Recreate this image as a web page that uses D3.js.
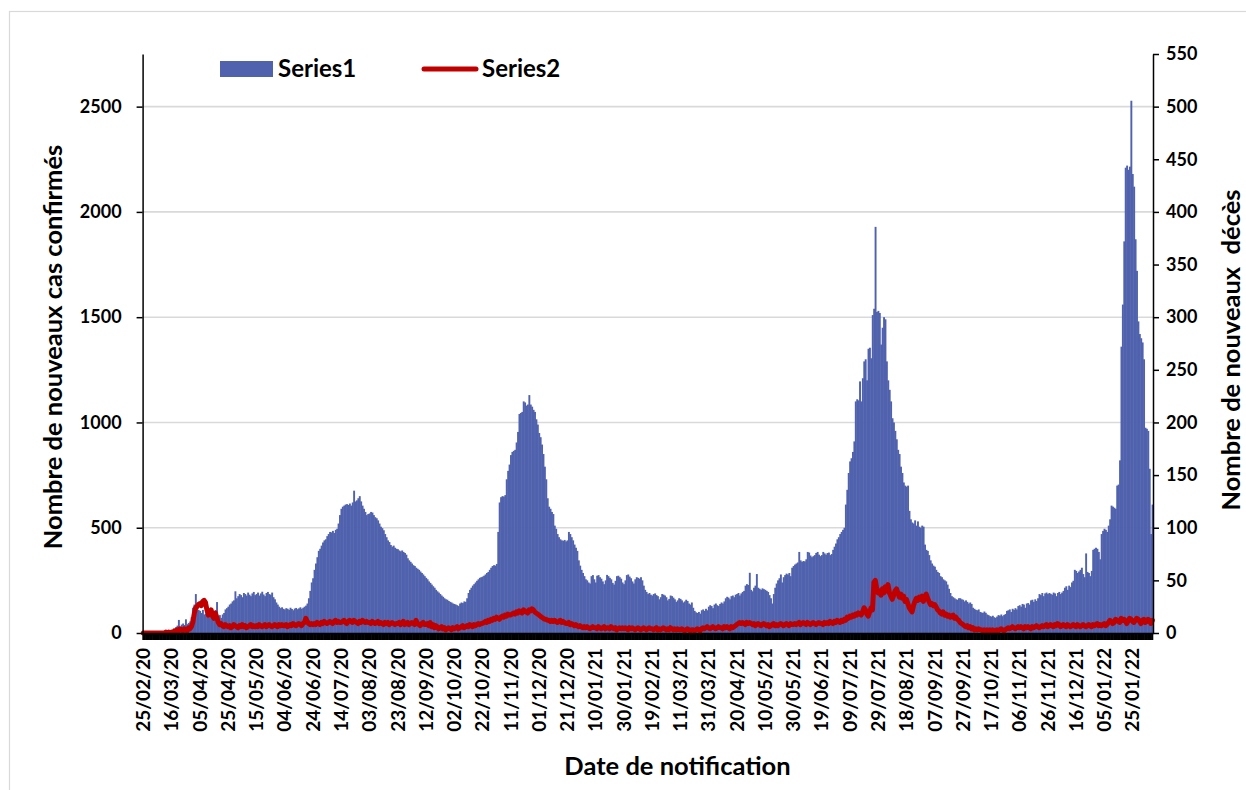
<!DOCTYPE html>
<html>
<head>
<meta charset="utf-8">
<script src="https://cdn.jsdelivr.net/npm/d3@7"></script>
<style>
  body { margin: 0; background: #fff; }
  text { font-family: Lato, "Open Sans", sans-serif; font-weight: 700; fill: #000; }
</style>
</head>
<body>
<svg id="chart" width="1246" height="790"></svg>
<script>
// daily new confirmed cases, from 25/02/2020 (one line = 20 days)
var casesDaily = [
  0,0,0,0,1,0,0,0,0,1,0,2,0,1,3,2,4,6,3,8,
  12,15,20,28,35,62,30,40,45,38,65,42,48,55,75,120,135,185,130,110,
  105,95,110,88,92,115,98,82,100,94,86,108,147,80,85,72,88,95,112,118,
  125,135,140,150,155,198,165,175,185,180,170,190,185,178,192,182,175,188,195,180,
  185,192,178,188,196,183,175,190,195,185,182,192,170,160,145,135,125,118,122,115,
  112,118,115,110,120,114,108,116,119,113,117,122,115,120,125,130,140,165,200,240,
  260,300,330,360,390,400,415,430,440,445,460,470,480,478,485,475,490,495,520,560,
  590,600,605,610,612,608,615,605,620,676,625,630,640,650,625,605,590,575,560,565,
  568,575,572,560,550,545,535,520,505,498,488,470,455,440,432,418,410,415,405,400,
  398,392,388,392,385,380,372,355,345,338,330,322,318,310,305,300,292,285,278,270,
  262,255,245,238,230,222,215,205,198,192,185,178,172,165,160,158,152,148,145,140,
  138,135,132,128,140,145,142,150,148,165,190,205,215,225,232,240,248,255,262,265,
  268,272,278,285,290,300,310,318,322,320,328,480,620,645,650,648,655,730,770,800,
  845,860,865,870,905,955,1040,1045,1050,1100,1095,1080,1085,1130,1085,1075,1060,1050,1015,990,
  950,930,895,850,790,730,640,600,590,575,565,510,495,470,455,445,440,438,442,435,
  440,480,470,455,440,420,405,390,345,320,300,285,270,255,250,240,235,270,275,255,
  240,272,275,265,258,245,232,250,276,270,262,255,238,230,248,270,272,265,258,240,
  232,250,275,278,268,260,245,235,255,265,262,258,265,250,225,205,195,185,190,182,
  178,185,188,180,175,160,170,185,182,178,170,155,162,178,175,168,160,148,155,165,
  162,155,145,150,158,152,140,135,145,120,105,98,95,100,92,108,112,105,115,108,
  125,132,128,118,135,140,132,128,138,145,140,150,165,172,168,160,175,178,170,182,
  185,190,178,188,195,200,225,232,228,286,205,198,215,225,280,215,210,205,212,208,
  205,200,195,180,165,140,185,215,235,250,260,278,240,265,275,282,278,285,270,310,
  318,325,330,335,385,345,338,342,340,350,385,382,368,360,365,370,380,385,372,365,
  370,385,378,372,380,382,370,375,395,410,425,445,455,470,480,490,500,610,680,760,
  815,830,860,910,1100,1110,1105,1195,1100,1210,1290,1300,1200,1350,1355,1305,1510,1540,1929,1525,
  1530,1520,1370,1450,1500,1490,1290,1200,1155,1100,1020,1000,960,920,870,850,790,760,715,700,
  695,700,580,540,525,520,535,510,530,505,500,510,505,420,395,390,370,345,330,320,
  315,300,290,285,270,265,255,250,245,230,210,190,175,170,165,160,158,165,165,160,
  158,150,155,148,140,145,138,120,115,110,108,112,100,98,95,102,96,88,85,80,
  78,82,75,72,78,85,82,88,80,86,90,105,108,112,100,115,110,118,112,128,
  132,125,138,135,120,140,142,135,155,158,148,160,152,165,185,180,190,175,188,192,
  185,190,186,182,192,188,175,190,195,185,192,200,215,222,205,225,218,240,248,300,
  295,285,292,300,310,280,265,378,290,285,270,295,395,400,405,400,385,350,470,485,
  495,490,480,510,540,605,600,595,590,700,705,820,1360,1560,1860,2210,2220,2200,2215,2528,
  2180,2120,1870,1720,1480,1420,1400,1380,1300,975,970,960,780,470,610
];

// daily new deaths, same days
var deathsDaily = [
  0,0,0,0,0,0,0,0,0,0,0,0,0,0,0,0,1,0,1,0,
  1,0,2,1,3,2,4,3,2,4,3,2,5,4,6,10,18,24,25,27,
  28,26,30,31,29,22,17,20,22,16,14,19,15,10,8,9,7,6,8,7,
  6,7,5,6,8,7,6,5,7,6,8,6,7,5,6,7,8,6,7,6,
  7,6,8,7,6,7,8,6,7,8,7,6,7,8,7,6,8,7,8,7,
  7,8,6,7,8,7,9,8,7,8,9,8,7,9,10,14,11,9,8,9,
  8,9,8,10,9,8,10,9,11,10,9,10,11,10,9,11,12,10,11,10,
  10,11,12,10,9,11,12,11,10,12,11,10,9,11,10,12,11,10,11,10,
  10,9,11,10,9,10,11,9,10,9,8,10,9,10,8,9,10,9,8,9,
  9,10,8,9,11,8,9,10,8,9,10,9,8,12,9,8,7,9,10,8,
  8,9,7,10,6,8,5,7,6,4,5,6,4,5,3,4,5,4,3,5,
  4,5,6,4,5,6,7,5,6,7,6,8,7,6,8,7,8,9,8,9,
  9,10,11,10,12,11,13,12,14,13,15,14,13,15,16,15,17,16,18,17,
  17,18,19,18,20,19,21,20,19,22,21,20,19,22,21,23,22,20,19,18,
  17,16,15,14,13,13,12,12,11,12,11,12,11,10,11,12,10,11,10,9,
  9,10,8,9,8,7,8,7,6,7,6,5,6,5,6,5,4,5,6,5,
  5,4,6,5,4,5,6,4,5,5,4,6,5,4,5,3,4,5,4,5,
  4,5,4,3,5,4,5,4,3,4,5,4,3,4,5,4,3,4,5,4,
  4,3,4,5,3,4,3,4,5,4,3,4,3,5,4,3,4,3,4,3,
  3,4,3,2,3,4,3,2,3,3,2,3,4,3,2,4,5,4,5,6,
  5,4,5,6,5,4,5,6,5,5,4,6,5,6,5,4,6,5,6,7,
  8,9,10,9,10,9,8,10,9,10,9,8,9,7,8,9,8,7,8,9,
  8,7,8,6,7,8,9,7,8,7,8,9,8,7,8,9,8,7,9,8,
  8,9,8,9,10,8,9,10,9,8,10,9,8,9,10,9,8,9,10,9,
  9,8,10,9,10,9,11,10,9,11,10,12,11,10,12,11,13,12,15,14,
  16,15,17,16,18,17,19,18,17,20,24,22,18,16,20,24,22,48,50,42,
  38,40,36,42,38,44,40,46,38,35,32,36,40,42,38,34,37,33,35,30,
  32,28,24,22,20,26,30,33,31,34,32,35,30,34,37,33,30,27,28,26,
  27,25,22,21,19,18,20,17,18,16,17,15,16,17,14,15,13,12,10,9,
  8,7,6,7,5,6,4,5,3,4,3,4,3,3,2,3,2,3,2,3,
  2,3,2,2,3,2,3,4,3,2,3,4,5,4,5,6,5,4,5,6,
  5,6,5,4,6,5,6,5,4,6,5,6,7,6,5,6,7,6,7,8,
  6,7,8,7,6,8,7,9,8,6,7,8,7,6,8,7,6,7,8,7,
  6,8,7,6,7,8,7,6,7,8,7,6,8,7,8,9,7,8,7,8,
  9,7,8,10,12,11,9,10,13,12,11,10,14,12,13,11,9,12,14,13,
  11,10,12,14,13,11,9,12,13,10,11,13,12,9,12
];

var tickLabels = ["25/02/20","16/03/20","05/04/20","25/04/20","15/05/20","04/06/20","24/06/20",
  "14/07/20","03/08/20","23/08/20","12/09/20","02/10/20","22/10/20","11/11/20","01/12/20",
  "21/12/20","10/01/21","30/01/21","19/02/21","11/03/21","31/03/21","20/04/21","10/05/21",
  "30/05/21","19/06/21","09/07/21","29/07/21","18/08/21","07/09/21","27/09/21","17/10/21",
  "06/11/21","26/11/21","16/12/21","05/01/22","25/01/22"];
var leftTicks = [0, 500, 1000, 1500, 2000, 2500];
var rightTicks = [0, 50, 100, 150, 200, 250, 300, 350, 400, 450, 500, 550];
var seriesNames = ["Series1", "Series2"];

var barColor = "#5062ad";
var lineColor = "#c00000";
var gridColor = "#d9d9d9";

var startDate = new Date(2020, 1, 25);
var fmt = d3.timeFormat("%d/%m/%y");
var days = d3.range(casesDaily.length);
var dayLabel = days.map(i => fmt(d3.timeDay.offset(startDate, i)));

var svg = d3.select("#chart");
var plotLeft = 142.6, plotRight = 1153, plotTop = 54, plotBottom = 633;

// outer frame
svg.append("rect")
  .attr("x", 9.5).attr("y", 11.5)
  .attr("width", 1260).attr("height", 800)
  .attr("fill", "none").attr("stroke", gridColor).attr("stroke-width", 1.2);

var x = d3.scaleBand().domain(days).range([plotLeft, plotRight]).paddingInner(0);
var yL = d3.scaleLinear().domain([0, 2750]).range([plotBottom, plotTop]);
var yR = d3.scaleLinear().domain([0, 550]).range([plotBottom, plotTop]);

// gridlines
svg.append("g").selectAll("line")
  .data(leftTicks.filter(d => d > 0))
  .join("line")
  .attr("x1", plotLeft).attr("x2", plotRight)
  .attr("y1", d => yL(d)).attr("y2", d => yL(d))
  .attr("stroke", gridColor).attr("stroke-width", 1.6);

// bars
svg.append("g").selectAll("rect")
  .data(casesDaily)
  .join("rect")
  .attr("x", (d, i) => x(i))
  .attr("width", x.bandwidth() + 0.5)
  .attr("y", d => yL(d))
  .attr("height", d => plotBottom - yL(d))
  .attr("fill", barColor);

// deaths line
var line = d3.line()
  .x((d, i) => x(i) + x.bandwidth() / 2)
  .y(d => yR(d));
svg.append("path")
  .datum(deathsDaily)
  .attr("d", line)
  .attr("fill", "none")
  .attr("stroke", lineColor)
  .attr("stroke-width", 5)
  .attr("stroke-linejoin", "round")
  .attr("stroke-linecap", "round");

// x axis: one tick per day, labels every 20 days
var xAxis = svg.append("g")
  .attr("transform", "translate(0," + plotBottom + ")")
  .call(d3.axisBottom(x)
    .tickSize(7)
    .tickSizeOuter(0)
    .tickFormat(i => tickLabels.includes(dayLabel[i]) ? dayLabel[i] : ""));
xAxis.selectAll("line").attr("stroke", "#000").attr("stroke-width", 2);
xAxis.select(".domain").attr("stroke", "#000").attr("stroke-width", 1.5);
xAxis.selectAll("text")
  .attr("y", 0).attr("x", -15).attr("dy", "0.36em")
  .attr("transform", "rotate(-90)")
  .style("text-anchor", "end")
  .style("font-size", "19px");

// left axis
var yAxisL = svg.append("g")
  .attr("transform", "translate(" + plotLeft + ",0)")
  .call(d3.axisLeft(yL).tickValues(leftTicks).tickFormat(d3.format("d"))
    .tickSize(6).tickSizeOuter(0).tickPadding(15));
yAxisL.selectAll("line, .domain").attr("stroke", "#000").attr("stroke-width", 1.5);
yAxisL.selectAll("text").style("font-size", "18px");

// right axis
var yAxisR = svg.append("g")
  .attr("transform", "translate(" + plotRight + ",0)")
  .call(d3.axisRight(yR).tickValues(rightTicks).tickFormat(d3.format("d"))
    .tickSize(6).tickSizeOuter(0).tickPadding(7));
yAxisR.selectAll("line, .domain").attr("stroke", "#000").attr("stroke-width", 1.5);
yAxisR.selectAll("text").style("font-size", "18px");

// axis titles
svg.append("text")
  .attr("transform", "translate(62,347) rotate(-90)")
  .attr("text-anchor", "middle")
  .style("font-size", "25.5px")
  .text("Nombre de nouveaux cas confirmés");
svg.append("text")
  .attr("transform", "translate(1240,350) rotate(-90)")
  .attr("text-anchor", "middle")
  .style("font-size", "25.5px")
  .style("white-space", "pre")
  .text("Nombre de nouveaux  décès");
svg.append("text")
  .attr("x", 677.5).attr("y", 775)
  .attr("text-anchor", "middle")
  .style("font-size", "25.5px")
  .text("Date de notification");

// legend
var legend = svg.append("g");
legend.append("rect")
  .attr("x", 220).attr("y", 61).attr("width", 53).attr("height", 16)
  .attr("fill", barColor);
legend.append("text")
  .attr("x", 278).attr("y", 77)
  .style("font-size", "24px")
  .text(seriesNames[0]);
legend.append("line")
  .attr("x1", 424).attr("x2", 476).attr("y1", 69).attr("y2", 69)
  .attr("stroke", lineColor).attr("stroke-width", 5).attr("stroke-linecap", "round");
legend.append("text")
  .attr("x", 482).attr("y", 77)
  .style("font-size", "24px")
  .text(seriesNames[1]);
</script>
</body>
</html>
